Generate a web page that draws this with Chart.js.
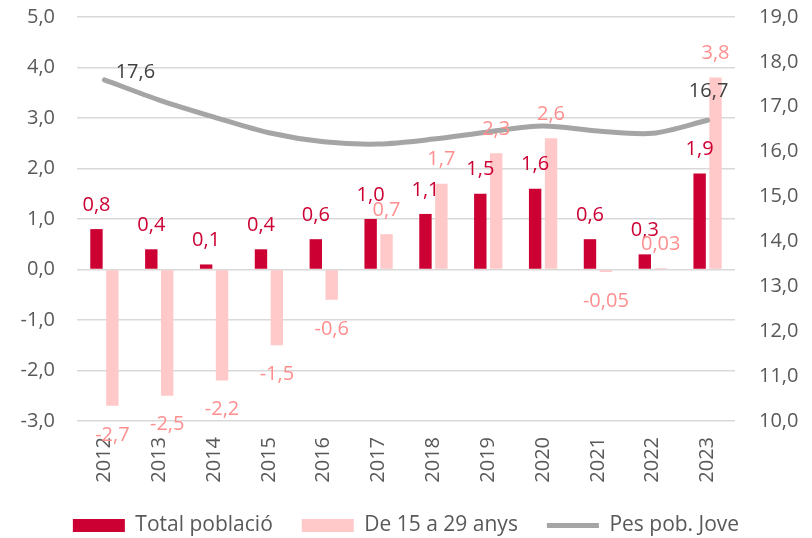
<!DOCTYPE html>
<html>
<head>
<meta charset="utf-8">
<script src="https://cdn.jsdelivr.net/npm/chart.js@4"></script>
<style>
  html, body { margin: 0; padding: 0; background: #fff; }
  #wrap { width: 812px; height: 538px; }
</style>
</head>
<body>
<div id="wrap"><canvas id="myChart" width="812" height="538"></canvas></div>
<script>
const years = ['2012', '2013', '2014', '2015', '2016', '2017', '2018', '2019', '2020', '2021', '2022', '2023'];
const totalPoblacio = [0.8, 0.4, 0.1, 0.4, 0.6, 1.0, 1.1, 1.5, 1.6, 0.6, 0.3, 1.9];
const jove15a29 = [-2.7, -2.5, -2.2, -1.5, -0.6, 0.7, 1.7, 2.3, 2.6, -0.05, 0.03, 3.8];
const pesPobJove = [17.6, 17.15, 16.77, 16.42, 16.22, 16.17, 16.28, 16.44, 16.57, 16.46, 16.41, 16.7];

const FONT = 'Open Sans';
const FS = 20;

function fmt(v, dec) {
    return v.toFixed(dec).replace('.', ',');
}

// etiquetes de valor (no hi ha plugin datalabels)
const valueLabels = {
    id: 'valueLabels',
    afterDatasetsDraw(chart) {
        const ctx = chart.ctx;
        ctx.save();
        ctx.font = FS + 'px ' + FONT;
        ctx.textAlign = 'center';
        ctx.textBaseline = 'middle';
        chart.data.datasets.forEach(function (ds, di) {
            const meta = chart.getDatasetMeta(di);
            meta.data.forEach(function (el, i) {
                const v = ds.data[i];
                if (ds.type === 'line') {
                    ctx.fillStyle = '#404040';
                    if (i === 0) {
                        ctx.fillText(fmt(v, 1), el.x + 31, el.y - 8);
                    } else if (i === ds.data.length - 1) {
                        ctx.fillText(fmt(v, 1), el.x + 1, el.y - 29);
                    }
                    return;
                }
                const dec = Math.abs(v) < 0.1 ? 2 : 1;
                ctx.fillStyle = ds.labelColor;
                const y = v >= 0 ? el.y - 24 : el.y + 29;
                ctx.fillText(fmt(v, dec), el.x, y);
            });
        });
        ctx.restore();
    }
};

// mides fixes dels eixos
function fitLeft(scale) { scale.width = 77; scale.paddingTop = 0; scale.paddingBottom = 0; }
function fitRight(scale) { scale.width = 77; scale.paddingTop = 0; scale.paddingBottom = 0; }
function fitBottom(scale) { scale.height = 65; }

var ctx = document.getElementById('myChart').getContext('2d');

var myChart = new Chart(ctx, {
    data: {
        labels: years,
        datasets: [
            {
                type: 'line',
                label: 'Pes pob. Jove',
                data: pesPobJove,
                yAxisID: 'y2',
                borderColor: '#A5A5A5',
                backgroundColor: '#A5A5A5',
                borderWidth: 5,
                pointRadius: 0,
                tension: 0.3,
                borderCapStyle: 'round',
                order: 0
            },
            {
                type: 'bar',
                label: 'Total població',
                data: totalPoblacio,
                yAxisID: 'y',
                backgroundColor: '#CC0033',
                labelColor: '#CC0033',
                categoryPercentage: 0.58,
                barPercentage: 0.78,
                order: 1
            },
            {
                type: 'bar',
                label: 'De 15 a 29 anys',
                data: jove15a29,
                yAxisID: 'y',
                backgroundColor: '#FFC9C9',
                labelColor: '#FF8F8F',
                categoryPercentage: 0.58,
                barPercentage: 0.78,
                order: 1
            }
        ]
    },
    options: {
        responsive: false,
        animation: false,
        layout: {
            padding: { left: 0, right: 0, top: 17, bottom: 0 }
        },
        scales: {
            x: {
                afterFit: fitBottom,
                grid: { display: false, drawTicks: false },
                border: { display: false },
                ticks: {
                    color: '#595959',
                    font: { family: FONT, size: FS },
                    minRotation: 90,
                    maxRotation: 90,
                    padding: 16
                }
            },
            y: {
                position: 'left',
                min: -3,
                max: 5,
                afterFit: fitLeft,
                grid: { color: '#D9D9D9', lineWidth: 1.5, drawTicks: false },
                border: { display: false },
                ticks: {
                    stepSize: 1,
                    color: '#595959',
                    font: { family: FONT, size: FS },
                    padding: 22,
                    callback: function (v) { return fmt(v, 1); }
                }
            },
            y2: {
                position: 'right',
                min: 10,
                max: 19,
                afterFit: fitRight,
                grid: { display: false, drawTicks: false },
                border: { display: false },
                ticks: {
                    stepSize: 1,
                    color: '#595959',
                    font: { family: FONT, size: FS },
                    padding: 24,
                    callback: function (v) { return fmt(v, 1); }
                }
            }
        },
        plugins: {
            tooltip: { enabled: false },
            legend: {
                position: 'bottom',
                maxHeight: 52,
                labels: {
                    color: '#595959',
                    font: { family: FONT, size: 21 },
                    usePointStyle: true,
                    pointStyleWidth: 52,
                    boxHeight: 13,
                    padding: 29,
                    generateLabels: function (chart) {
                        const items = Chart.defaults.plugins.legend.labels.generateLabels(chart);
                        items.forEach(function (it) {
                            it.pointStyle = it.text === 'Pes pob. Jove' ? 'line' : 'rect';
                            if (it.pointStyle === 'rect') it.lineWidth = 0;
                        });
                        // ordre de la llegenda: barres primer, després la línia
                        return [items[1], items[2], items[0]];
                    }
                }
            }
        }
    },
    plugins: [valueLabels]
});
</script>
</body>
</html>
